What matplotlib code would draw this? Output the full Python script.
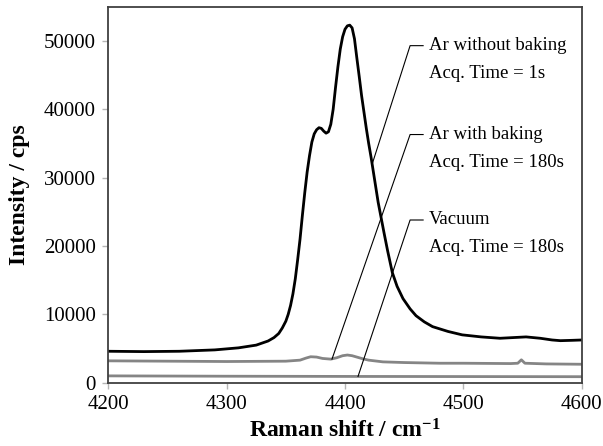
import matplotlib
matplotlib.use("Agg")
import matplotlib.pyplot as plt
import matplotlib.transforms as mtransforms

# ---------------------------------------------------------------------------
# Data, intensity in cps
# ---------------------------------------------------------------------------
ar_nobake_x = [4200, 4230, 4260, 4290, 4310, 4325, 4335, 4340, 4344, 4347,
               4350, 4352, 4354, 4356, 4358, 4360, 4362, 4364, 4366, 4368,
               4370, 4372, 4374, 4376, 4378, 4380, 4382, 4384, 4386, 4388,
               4390, 4392, 4394, 4396, 4398, 4400, 4402, 4404, 4406, 4408,
               4410, 4412, 4414, 4416, 4418, 4420, 4422, 4424, 4426, 4428,
               4430, 4433, 4436, 4440, 4444, 4449, 4455, 4460, 4467, 4474,
               4487, 4499, 4515, 4531, 4542, 4553, 4565, 4575, 4582, 4592,
               4600]
ar_nobake_y = [4600, 4550, 4600, 4800, 5100, 5500, 6100, 6600, 7200, 8000,
               9000, 10000, 11300, 13000, 15200, 18000, 21000, 24500, 27800, 30800,
               33200, 35200, 36400, 37000, 37300, 37200, 36800, 36500, 36700, 37800,
               40000, 43200, 46200, 48800, 50600, 51700, 52200, 52300, 51900, 50300,
               47500, 44800, 42000, 39600, 37200, 35000, 33000, 30800, 28600, 26400,
               24600, 21900, 19300, 16100, 14100, 12300, 10800, 9800, 8900, 8200,
               7500, 7000, 6700, 6500, 6600, 6700, 6500, 6250, 6150, 6200,
               6250]

ar_bake_x = [4200, 4250, 4300, 4350, 4362, 4367, 4371, 4376, 4381, 4388,
             4393, 4398, 4402, 4406, 4410, 4415, 4420, 4432, 4450, 4480,
             4500, 4540, 4546, 4549, 4552, 4570, 4600]
ar_bake_y = [3200, 3150, 3100, 3150, 3300, 3600, 3800, 3750, 3550, 3450,
             3650, 3950, 4050, 3950, 3750, 3500, 3300, 3050, 2950, 2850,
             2850, 2800, 2850, 3350, 2850, 2750, 2700]

vacuum_x = [4200, 4300, 4400, 4500, 4600]
vacuum_y = [1000, 950, 920, 900, 880]

# annotation: (label lines, curve anchor x, anchor y, label y)
ann_labels = [("Ar without baking", "Acq. Time = 1s"),
              ("Ar with baking", "Acq. Time = 180s"),
              ("Vacuum", "Acq. Time = 180s")]
ann_anchor_x = [4423, 4389, 4411]
ann_anchor_y = [32000, 3450, 920]
ann_text_y = [49300, 36300, 23800]

BLACK = "#000000"
GRAY = "#858585"

plt.rcParams["font.family"] = ["Liberation Serif", "DejaVu Serif"]
plt.rcParams["mathtext.fontset"] = "custom"
plt.rcParams["mathtext.rm"] = "Liberation Serif"
plt.rcParams["mathtext.bf"] = "Liberation Serif:bold"

fig = plt.figure(figsize=(6.03, 4.46), dpi=100)
ax = fig.add_axes([0.1796, 0.1419, 0.9647 - 0.1796, 0.985 - 0.1419])

ax.plot(vacuum_x, vacuum_y, color=GRAY, lw=2.0)
ax.plot(ar_bake_x, ar_bake_y, color=GRAY, lw=2.0)
ax.plot(ar_nobake_x, ar_nobake_y, color=BLACK, lw=2.0)

ax.set_xlim(4200, 4600)
ax.set_ylim(0, 55000)
ax.set_xticks([4200, 4300, 4400, 4500, 4600])
ax.set_yticks([0, 10000, 20000, 30000, 40000, 50000])
ax.tick_params(direction="out", length=4, width=1, color="#b5b5b5",
               labelsize=15, labelcolor="black", pad=5)
for sp in ax.spines.values():
    sp.set_color("#404040")
    sp.set_linewidth(1.3)

ax.set_xlabel("Raman shift / cm$\\mathbf{^{-1}}$", fontsize=17, fontweight="bold",
              labelpad=4)
ax.set_ylabel("Intensity / cps", fontsize=17, fontweight="bold", labelpad=10)

# leader lines and labels
elbow_x, stub_x, text_x = 4455, 4466, 4471
line_gap = mtransforms.offset_copy(ax.transData, fig=fig, y=-20, units="points")
for (l1, l2), axx, ayy, ty in zip(ann_labels, ann_anchor_x, ann_anchor_y, ann_text_y):
    ax.plot([axx, elbow_x, stub_x], [ayy, ty, ty], color="black", lw=0.8)
    ax.text(text_x, ty, l1, fontsize=13.5, va="center", ha="left")
    ax.text(text_x, ty, l2, fontsize=13.5, va="center", ha="left",
            transform=line_gap)

fig.savefig("out.png", dpi=100)
